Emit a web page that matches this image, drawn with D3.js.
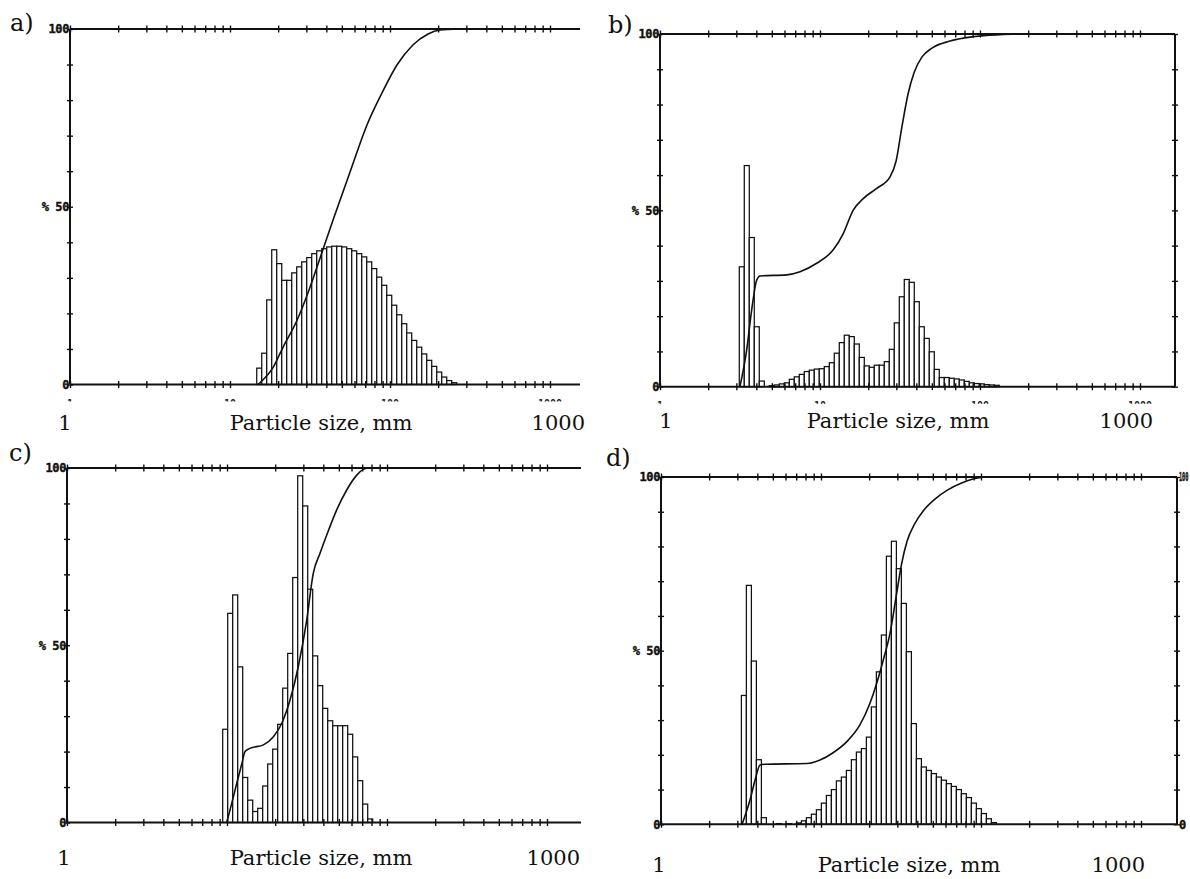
<!DOCTYPE html>
<html>
<head>
<meta charset="utf-8">
<script src="https://cdn.jsdelivr.net/npm/d3@7"></script>
<style>
  body { margin: 0; background: #fff; }
  svg { display: block; }
  .big { font-family: "DejaVu Serif", serif; fill: #111; }
  .small { font-family: "DejaVu Sans Mono", monospace; font-weight: bold; font-size: 12px; letter-spacing: -0.4px; fill: #111; stroke: #111; stroke-width: 0.4; }
  .stub { font-family: "DejaVu Sans Mono", monospace; font-weight: bold; font-size: 10px; fill: #222; }
  .axis path { display: none; }
  .axis line { stroke: #111; stroke-width: 1.4; }
</style>
</head>
<body>
<svg id="chart" width="1190" height="879"></svg>
<script>
var panelLabels = ["a)", "b)", "c)", "d)"];
var axisTitle = "Particle size, mm";
var axisEnds = ["1", "1000"];
var decadeLabels = ["1", "10", "100", "1000"];
var yLabels = ["0", "% 50", "100"];
var binsPerDecade = 32;

// lower edge (mm) of the first histogram bin in each panel
var histStart = [14.69, 3.13, 9.40, 3.18];

// histogram heights, % of axis
var histA = [4.6, 8.8, 23.8, 37.9, 34.0, 29.3, 29.3, 31.4, 33.1, 34.5, 35.7, 36.8, 37.6, 38.2,
             38.7, 38.9, 38.9, 38.7, 38.2, 37.6, 36.8, 35.9, 34.5, 32.6, 30.2, 27.9, 25.1, 22.3,
             19.6, 17.1, 14.5, 12.4, 10.5, 8.6, 6.8, 5.1, 3.5, 2.1, 1.1, 0.5];
var histB = [34.0, 62.7, 42.3, 17.0, 1.6, 0, 0.3, 0.5, 0.8, 1.1, 2.1, 2.8, 3.5, 4.3, 4.7, 5.0,
             5.1, 5.7, 6.8, 9.5, 12.5, 14.6, 14.2, 12.1, 8.3, 5.9, 5.5, 6.1, 6.1, 7.1, 10.6, 18.1,
             25.5, 30.4, 29.6, 24.1, 17.0, 13.7, 9.9, 4.9, 2.6, 2.6, 2.4, 2.2, 1.9, 1.5, 1.1, 0.9,
             0.8, 0.6, 0.5, 0.4];
var histC = [26.3, 59.0, 64.2, 43.9, 12.7, 6.3, 3.1, 4.0, 10.3, 16.5, 20.7, 27.7, 37.9, 47.7,
             69.1, 97.8, 89.3, 65.8, 47.0, 38.6, 32.2, 28.7, 27.3, 27.3, 27.3, 24.9, 18.5, 11.8,
             5.2, 1.0];
var histD = [37.1, 68.8, 47.0, 18.6, 1.9, 0, 0, 0.2, 0, 0.2, 0,
             0.4, 1.0, 1.9, 2.9, 4.2, 6.1, 8.3, 10.0, 12.5, 13.6, 15.5, 18.6, 20.8, 21.8, 25.1,
             33.8, 43.9, 54.5, 77.2, 81.5, 73.6, 63.6, 49.7, 29.0, 18.9, 16.5, 15.5, 14.6, 13.6,
             12.7, 11.7, 10.9, 10.0, 8.8, 7.7, 6.1, 4.5, 3.1, 1.6, 0.5];

// cumulative curves: size (mm) and cumulative %
var cumSizeA = [14.96, 18.6, 21.4, 26.2, 31.6, 37.6, 44.0, 57.5, 71.8, 89.1, 111, 139, 173, 205, 270];
var cumPctA  = [0, 4.8, 10.4, 18, 27.3, 37.2, 46.2, 61, 73, 82, 90, 95.5, 98.6, 99.7, 100];
var cumSizeB = [3.16, 3.48, 3.74, 4.02, 4.22, 6.19, 7.50, 9.53, 12.1, 14.0, 16.1, 18.7, 22.6,
                27.4, 29.9, 32.6, 35.5, 38.7, 43.4, 50.1, 64.9, 93.0, 133, 178];
var cumPctB  = [0, 10.4, 21.7, 30.2, 31.4, 31.7, 32.6, 35, 38.8, 43.5, 50, 53.4, 56.2,
                59.5, 64, 74, 83, 89, 93.5, 96, 98, 99.3, 99.8, 100];
var cumSizeC = [9.96, 10.7, 11.5, 12.4, 12.96, 13.9, 16.9, 19.5, 22.0, 24.8, 27.9, 31.5, 34.6,
                38.1, 42.0, 48.5, 56.0, 64.7, 71.1, 76.1];
var cumPctC  = [0, 5.4, 11, 16.7, 20, 20.9, 21.9, 24.2, 28, 34.6, 44, 57.1, 70.3, 75.9, 81.1,
                88.2, 93.8, 98, 99.6, 100];
var cumSizeD = [3.21, 3.60, 3.87, 4.16, 4.47, 8.14, 9.86, 11.9, 14.5, 17.5, 20.2, 22.3, 24.5,
                27.0, 29.7, 31.9, 34.5, 38.5, 44.0, 52.0, 62.0, 75.0, 89.0, 105];
var cumPctD  = [0, 7, 12.7, 17.1, 17.3, 17.5, 18.5, 20.6, 23.8, 28.6, 34.8, 40.6, 47.3, 55,
                66.5, 75, 81.5, 86.5, 90.5, 93.8, 96.3, 98.2, 99.4, 100];

var hists = [histA, histB, histC, histD];
var cumSizes = [cumSizeA, cumSizeB, cumSizeC, cumSizeD];
var cumPcts = [cumPctA, cumPctB, cumPctC, cumPctD];

// ---------- layout of the four panels ----------
var decade = 160;
var panels = [
    {left: 70,  top: 29,  bottom: 384.5, right: 580,  box: false, lab: [10, 31],   foot: 430, oneX: 65,  titleX: 321, endX: 585,  stubs: true},
    {left: 660, top: 34,  bottom: 386.7, right: 1175, box: true,  lab: [608, 33],  foot: 428, oneX: 666, titleX: 898, endX: 1153, stubs: true},
    {left: 67,  top: 468, bottom: 822.5, right: 581,  box: false, lab: [9, 461],   foot: 865, oneX: 64,  titleX: 321, endX: 580,  stubs: false},
    {left: 661, top: 477, bottom: 824.3, right: 1177, box: true,  lab: [606, 466], foot: 872, oneX: 659, titleX: 909, endX: 1145, stubs: false, rightLabels: true}
];

var svg = d3.select("#chart");
var defs = svg.append("defs");

panels.forEach(function(p, i) {
    var w = p.right - p.left,
        h = p.bottom - p.top;

    var x = d3.scaleLog().domain([1, 1000]).range([0, 3 * decade]);
    var y = d3.scaleLinear().domain([0, 100]).range([h, 0]);

    var g = svg.append("g")
        .attr("transform", "translate(" + p.left + "," + p.top + ")");

    // histogram bins, equal width in log space
    var step = Math.pow(10, 1 / binsPerDecade);
    var bins = hists[i].map(function(v, k) {
        var lo = histStart[i] * Math.pow(step, k);
        return {lo: lo, hi: lo * step, v: v};
    }).filter(function(d) { return d.v > 0; });

    g.selectAll("rect.bar").data(bins).enter().append("rect")
        .attr("class", "bar")
        .attr("x", function(d) { return x(d.lo); })
        .attr("width", function(d) { return x(d.hi) - x(d.lo); })
        .attr("y", function(d) { return y(d.v); })
        .attr("height", function(d) { return h - y(d.v); })
        .attr("fill", "#fff")
        .attr("stroke", "#111")
        .attr("stroke-width", 1.25);

    // cumulative curve
    var pts = cumSizes[i].map(function(s, k) { return [x(s), y(cumPcts[i][k])]; });
    g.append("path")
        .attr("d", d3.line().curve(d3.curveMonotoneX)(pts))
        .attr("fill", "none")
        .attr("stroke", "#111")
        .attr("stroke-width", 1.6);

    // frame lines
    var frame = [[0, 0, w, 0], [0, h, w, h], [0, 0, 0, h]];
    if (p.box) frame.push([w, 0, w, h]);
    g.selectAll("line.frame").data(frame).enter().append("line")
        .attr("class", "frame")
        .attr("x1", function(d) { return d[0]; })
        .attr("y1", function(d) { return d[1]; })
        .attr("x2", function(d) { return d[2]; })
        .attr("y2", function(d) { return d[3]; })
        .attr("stroke", "#111")
        .attr("stroke-width", 2);

    // crossing tick marks: an inward and an outward axis on each line
    var xt = x.ticks();
    [0, h].forEach(function(yy) {
        g.append("g").attr("class", "axis").attr("transform", "translate(0," + yy + ")")
            .call(d3.axisBottom(x).tickValues(xt).tickSize(3.5).tickFormat(""));
        g.append("g").attr("class", "axis").attr("transform", "translate(0," + yy + ")")
            .call(d3.axisTop(x).tickValues(xt).tickSize(3.5).tickFormat(""));
    });
    var ys = p.box ? [0, w] : [0];
    ys.forEach(function(xx) {
        g.append("g").attr("class", "axis").attr("transform", "translate(" + xx + ",0)")
            .call(d3.axisLeft(y).ticks(10).tickSize(3).tickFormat(""));
        g.append("g").attr("class", "axis").attr("transform", "translate(" + xx + ",0)")
            .call(d3.axisRight(y).ticks(10).tickSize(3).tickFormat(""));
    });

    // y labels from the printout
    var yVals = [0, 50, 100];
    g.selectAll("text.ylab").data(yVals).enter().append("text")
        .attr("class", "small")
        .attr("x", -1)
        .attr("y", function(d) { return y(d); })
        .attr("dy", "0.36em")
        .attr("text-anchor", "end")
        .text(function(d, k) { return yLabels[k]; });
    if (p.rightLabels) {
        // the scan crops these at the page edge, so "100" is narrowed to fit
        g.selectAll("text.rlab").data([0, 100]).enter().append("text")
            .attr("class", "small")
            .attr("transform", function(d) {
                return "translate(" + (w + 2) + "," + y(d) + ")" + (d === 100 ? " scale(0.45,1)" : "");
            })
            .attr("dy", "0.36em")
            .text(function(d) { return d; });
    }

    // decade labels cut off by the scan, only their tops show
    if (p.stubs) {
        var cid = "clip" + i;
        defs.append("clipPath").attr("id", cid).append("rect")
            .attr("x", -20).attr("y", h + 14).attr("width", w + 40).attr("height", 3);
        g.append("g").attr("clip-path", "url(#" + cid + ")")
            .selectAll("text").data([1, 10, 100, 1000]).enter().append("text")
            .attr("class", "stub")
            .attr("x", function(d) { return x(d); })
            .attr("y", h + 22)
            .attr("text-anchor", "middle")
            .text(function(d, k) { return decadeLabels[k]; });
    }

    // panel letter and axis caption
    svg.append("text").attr("class", "big")
        .attr("x", p.lab[0]).attr("y", p.lab[1])
        .style("font-size", "24px")
        .text(panelLabels[i]);

    svg.append("text").attr("class", "big")
        .attr("x", p.oneX).attr("y", p.foot)
        .attr("text-anchor", "middle")
        .style("font-size", "21px")
        .text(axisEnds[0]);
    svg.append("text").attr("class", "big")
        .attr("x", p.titleX).attr("y", p.foot)
        .attr("text-anchor", "middle")
        .style("font-size", "21px")
        .text(axisTitle);
    svg.append("text").attr("class", "big")
        .attr("x", p.endX).attr("y", p.foot)
        .attr("text-anchor", "end")
        .style("font-size", "21px")
        .text(axisEnds[1]);
});
</script>
</body>
</html>
